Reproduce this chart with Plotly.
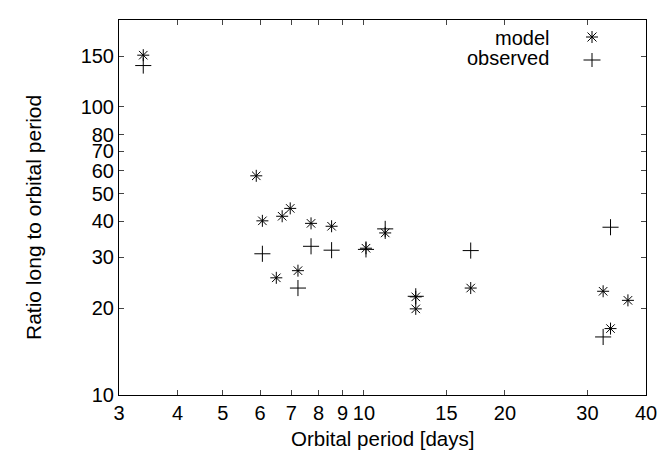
import numpy as np
import plotly.graph_objects as go

# Data
model_x = [3.38, 5.89, 6.07, 6.50, 6.69, 6.96, 7.23, 7.71, 8.53, 10.1, 11.1, 12.9, 12.9, 16.9, 32.4, 33.6, 36.6]
model_y = [151, 57.6, 40.2, 25.5, 41.7, 44.4, 27.0, 39.4, 38.5, 32.3, 36.5, 21.9, 19.9, 23.5, 22.9, 17.0, 21.3]
obs_x = [3.38, 6.07, 7.23, 7.71, 8.53, 10.1, 11.1, 12.9, 16.9, 32.4, 33.6]
obs_y = [139, 30.9, 23.5, 32.8, 31.8, 32.0, 37.7, 22.0, 31.7, 15.9, 38.2]

x_ticks = [3, 4, 5, 6, 7, 8, 9, 10, 15, 20, 30, 40]
y_ticks = [10, 20, 30, 40, 50, 60, 70, 80, 100, 150]

W, H = 666, 452
L, R, T, B = 111, 28, 12, 65
pw, ph = W - L - R, H - T - B

def px(x):
    return (x - L) / pw

def py(y):
    return (H - B - y) / ph

FONT = "Liberation Sans, Arial, sans-serif"

fig = go.Figure()
fig.add_trace(go.Scatter(
    x=model_x, y=model_y, mode="markers", name="model",
    marker=dict(symbol="asterisk-open", size=10, color="black",
                line=dict(color="black", width=1)),
))
fig.add_trace(go.Scatter(
    x=obs_x, y=obs_y, mode="markers", name="observed",
    marker=dict(symbol="cross-thin-open", size=11.5, color="black",
                line=dict(color="black", width=1)),
))

axis_common = dict(
    type="log", showline=True, linecolor="black", linewidth=1, mirror="ticks",
    ticks="inside", ticklen=5, tickcolor="#444", showgrid=False, zeroline=False,
    tickfont=dict(family=FONT, size=20, color="black"),
)
fig.update_xaxes(range=[np.log10(3), np.log10(40)], tickvals=x_ticks,
                 ticktext=[str(v) for v in x_ticks], **axis_common)
fig.update_yaxes(range=[1, np.log10(200)], tickvals=y_ticks,
                 ticktext=[str(v) for v in y_ticks], **axis_common)

# Legend (gnuplot style: text right-aligned, key sample to the right)
for label, ty, ky, kind in [("model", 30, 29, "star"), ("observed", 50, 52, "plus")]:
    fig.add_annotation(x=px(542), y=py(ty), xref="paper", yref="paper",
                       text=label, showarrow=False, xanchor="right", yanchor="middle",
                       borderpad=0,
                       font=dict(family=FONT, size=20, color="black"))
    if kind == "star":
        r = 6
        d = 4.5
        segs = [(0, -r, 0, r), (-r, 0, r, 0), (-d, -d, d, d), (-d, d, d, -d)]
    else:
        r = 8.5
        segs = [(0, -r + 1.5, 0, r - 1.5), (-r, 0, r, 0)]
    for (x0, y0, x1, y1) in segs:
        fig.add_shape(type="line", xref="paper", yref="paper",
                      x0=px(584 + x0), x1=px(584 + x1), y0=py(ky + y0), y1=py(ky + y1),
                      line=dict(color="black", width=1))

# Axis titles
fig.add_annotation(x=0.5, y=py(443), xref="paper", yref="paper",
                   text="Orbital period [days]", showarrow=False,
                   xanchor="center", yanchor="bottom", borderpad=0,
                   font=dict(family=FONT, size=20.5, color="black"))
fig.add_annotation(x=px(25), y=py(210), xref="paper", yref="paper",
                   text="Ratio long to orbital period", showarrow=False, textangle=-90,
                   xanchor="center", yanchor="middle", borderpad=0,
                   font=dict(family=FONT, size=21, color="black"))

fig.update_layout(
    width=W, height=H, showlegend=False,
    margin=dict(l=L, r=R, t=T, b=B, autoexpand=False),
    plot_bgcolor="white", paper_bgcolor="white",
)

fig.write_html("out.html")
